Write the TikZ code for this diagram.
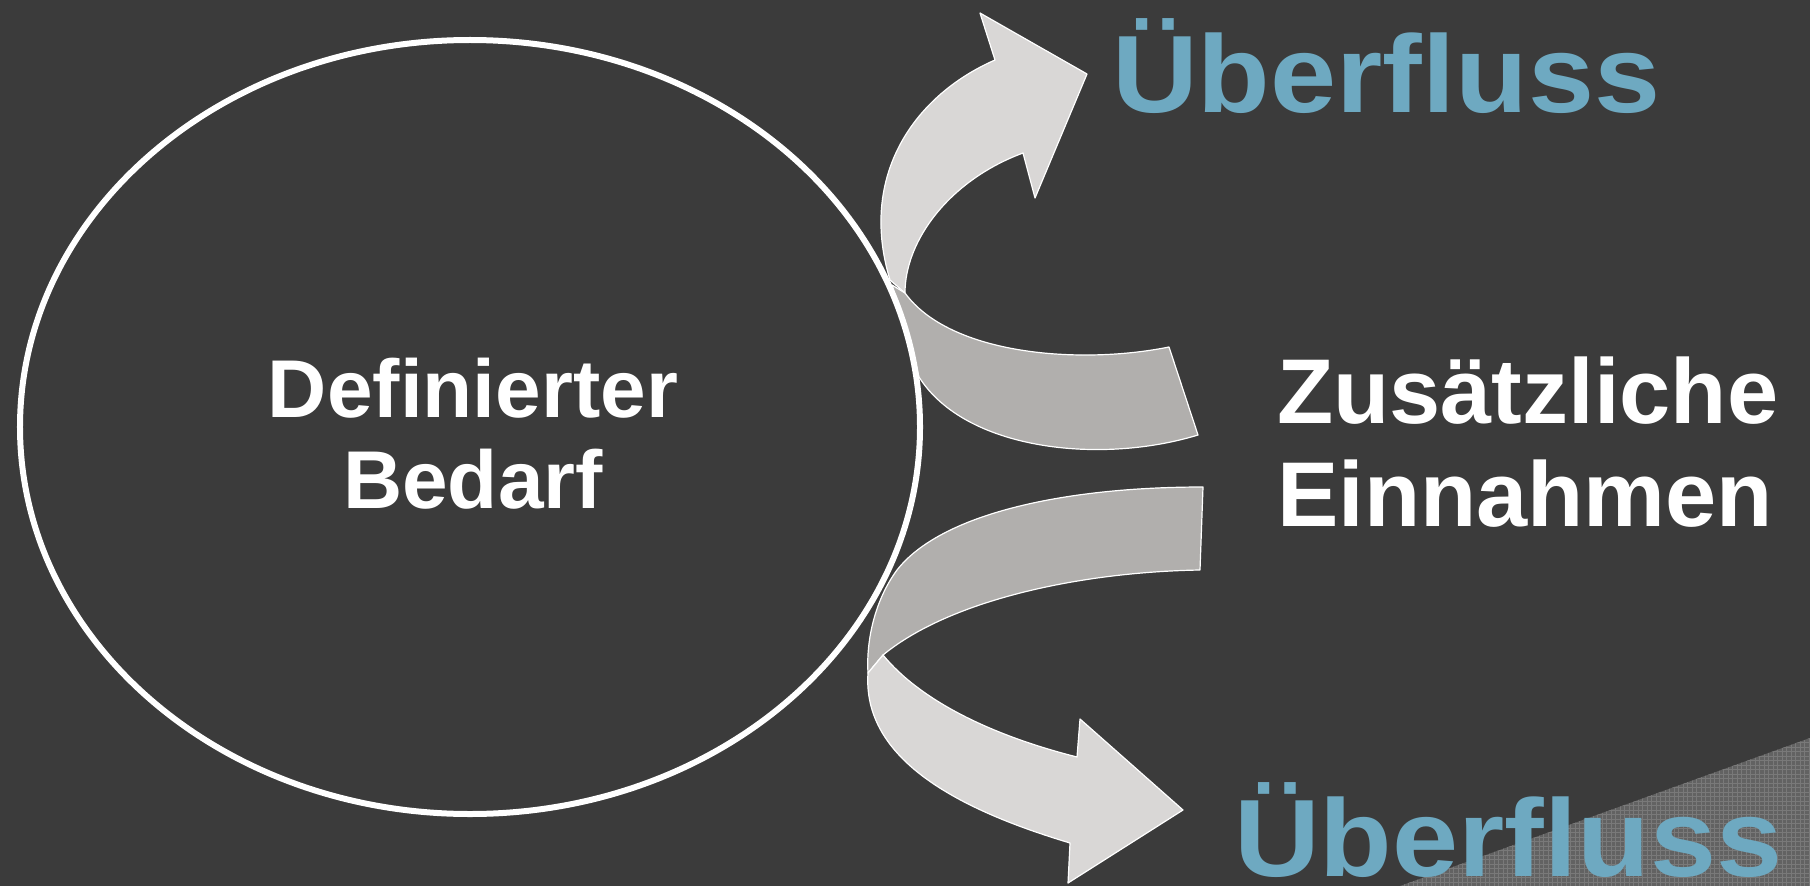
\documentclass[tikz,border=0pt]{standalone}
\usepackage{fontspec}
\setmainfont{Liberation Sans}
\usetikzlibrary{shapes.geometric, calc, positioning}
\definecolor{slide}{HTML}{3B3B3B}
\definecolor{ribbonlight}{HTML}{D9D7D6}
\definecolor{ribbondark}{HTML}{B1AFAD}
\definecolor{overblue}{HTML}{6EA9C1}
\definecolor{texturefill}{HTML}{626262}
\definecolor{texturegrid}{HTML}{797979}
\tikzstyle{bubble} = [ellipse, draw=white, line width=6bp, minimum width=900bp, minimum height=774bp, inner sep=0pt]
\tikzstyle{lighttwist} = [fill=ribbonlight, draw=white, line width=1.2bp, line join=round]
\tikzstyle{darktwist} = [fill=ribbondark, draw=white, line width=1.2bp, line join=round]
\tikzstyle{whitelabel} = [text=white, inner sep=0pt, font=\bfseries]
\tikzstyle{bluelabel} = [text=overblue, inner sep=0pt, anchor=base west, font=\fontsize{110bp}{120bp}\selectfont\bfseries]

\begin{document}
\begin{tikzpicture}[x=1bp, y=-1bp]
		\useasboundingbox (0,0) rectangle (1810,886);
		\fill[slide] (0,0) rectangle (1810,886);
		% textured corner
		\fill[texturefill] (1400,886) -- (1810,738) -- (1810,886) -- cycle;
		\begin{scope}
			\clip (1400,886) -- (1810,738) -- (1810,886) -- cycle;
			\draw[texturegrid, line width=0.7bp, step=4.5bp] (1395,730) grid (1810,886);
		\end{scope}
		
		% upper arrow
		\path[darktwist] (892,285) -- (905,293) .. controls (950,355) and (1080,365) .. (1169,347)
			-- (1198,435) .. controls (1100,465) and (965,450) .. (919,377)
			.. controls (910,345) and (900,312) .. (892,285) -- cycle;
		\path[lighttwist] (890,280) .. controls (858,175) and (915,95) .. (995,60)
			-- (980,13) -- (1087,74) -- (1035,198) -- (1023,153)
			.. controls (950,180) and (905,240) .. (905,293) -- cycle;
		
		% lower arrow
		\path[darktwist] (1203,487) .. controls (1060,487) and (940,515) .. (897,570)
			.. controls (875,600) and (866,640) .. (868,673)
			-- (883,655) .. controls (950,600) and (1080,572) .. (1200,570) -- cycle;
		\path[lighttwist] (868,673) .. controls (862,760) and (960,810) .. (1070,843)
			-- (1068,883) -- (1183,810) -- (1080,719) -- (1077,757)
			.. controls (990,735) and (920,700) .. (883,655) -- cycle;
		
		\node (Bedarf) [bubble] at (470,427) {};
		\node (BedarfText) [whitelabel, align=center, font=\fontsize{82bp}{91bp}\selectfont\bfseries] at (473,434) {Definierter\\Bedarf};
		\node (Einnahmen) [whitelabel, align=left, anchor=west, font=\fontsize{92bp}{103bp}\selectfont\bfseries] at (1277,442) {Zusätzliche\\Einnahmen};
		\node (UeberflussTop) [bluelabel] at (1112,112) {\scalebox{1.08}[1]{Überfluss}};
		\node (UeberflussBottom) [bluelabel] at (1234,876) {\scalebox{1.08}[1]{Überfluss}};
\end{tikzpicture}
\end{document}
